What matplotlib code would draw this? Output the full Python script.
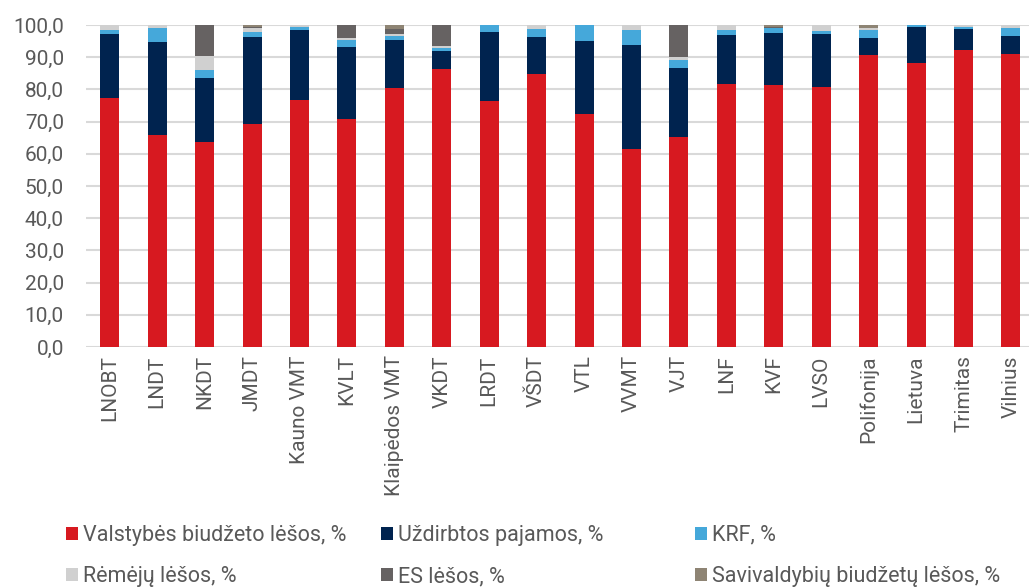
import matplotlib
matplotlib.use("Agg")
import matplotlib.pyplot as plt
from matplotlib.patches import Patch
import numpy as np

plt.rcParams['font.family'] = ['Roboto', 'DejaVu Sans']

categories = ["LNOBT", "LNDT", "NKDT", "JMDT", "Kauno VMT", "KVLT", "Klaipėdos VMT",
              "VKDT", "LRDT", "VŠDT", "VTL", "VVMT", "VJT", "LNF", "KVF", "LVSO",
              "Polifonija", "Lietuva", "Trimitas", "Vilnius"]

valstybes = [77.2, 65.7, 63.7, 69.4, 76.8, 70.8, 80.4, 86.4, 76.3, 84.8,
             72.4, 61.5, 65.2, 81.7, 81.5, 80.8, 90.8, 88.1, 92.1, 91.0]
uzdirbtos = [20.0, 29.1, 19.9, 26.8, 21.7, 22.4, 14.9, 5.6, 21.6, 11.6,
             22.7, 32.4, 21.3, 15.3, 16.1, 16.4, 5.3, 11.2, 6.8, 5.7]
krf = [1.2, 4.4, 2.5, 1.5, 0.9, 2.0, 1.3, 0.8, 2.1, 2.4,
       4.9, 4.4, 2.7, 1.4, 1.6, 0.9, 2.3, 0.7, 0.6, 2.5]
remeju = [1.6, 0.8, 4.2, 1.5, 0.6, 0.7, 0.6, 0.6, 0.0, 1.2,
          0.0, 1.7, 1.0, 1.6, 0.0, 1.9, 0.7, 0.0, 0.5, 0.8]
es = [0.0, 0.0, 9.7, 0.3, 0.0, 4.1, 1.6, 6.6, 0.0, 0.0,
      0.0, 0.0, 9.8, 0.0, 0.3, 0.0, 0.0, 0.0, 0.0, 0.0]
savivaldybiu = [0.0, 0.0, 0.0, 0.5, 0.0, 0.0, 1.2, 0.0, 0.0, 0.0,
                0.0, 0.0, 0.0, 0.0, 0.5, 0.0, 0.9, 0.0, 0.0, 0.0]

series_names = ["Valstybės biudžeto lėšos, %", "Uždirbtos pajamos, %", "KRF, %",
                "Rėmėjų lėšos, %", "ES lėšos, %", "Savivaldybių biudžetų lėšos, %"]
colors = ["#D71920", "#00234F", "#45A8DA", "#D0D0D0", "#666262", "#8E8474"]
series = [valstybes, uzdirbtos, krf, remeju, es, savivaldybiu]

fig = plt.figure(figsize=(10.29, 5.88), dpi=100)
ax = fig.add_axes([86/1029, 1-347/588, (1029-86)/1029, (347-25)/588])

x = np.arange(len(categories))
bottom = np.zeros(len(categories))
for vals, c in zip(series, colors):
    ax.bar(x, vals, width=0.4, bottom=bottom, color=c, zorder=3)
    bottom += np.array(vals)

ax.set_ylim(0, 100)
ax.set_xlim(-0.5, 19.38)
ax.set_yticks(np.arange(0, 101, 10))
ax.set_yticklabels([f"{v:.1f}".replace(".", ",") for v in np.arange(0, 101, 10)],
                   fontsize=15, color="#595959")
ax.set_xticks(x)
ax.set_xticklabels(categories, rotation=90, fontsize=15, color="#595959")
ax.tick_params(axis='x', length=0, pad=6)
ax.tick_params(axis='y', length=0, pad=16)
ax.grid(axis='y', color="#D9D9D9", linewidth=1.5, zorder=0)
for s in ax.spines.values():
    s.set_visible(False)

handles = [Patch(facecolor=c, edgecolor='none') for c in colors]
col_x = [66, 381, 695]
ymid = 1 - 556/588
for col in range(3):
    idx = [col, col + 3]
    leg = fig.legend([handles[i] for i in idx], [series_names[i] for i in idx],
                     ncol=1, loc='center left', bbox_to_anchor=(col_x[col]/1029, ymid),
                     frameon=False, fontsize=15.5, handlelength=0.56, handleheight=0.56,
                     handletextpad=0.25, labelspacing=0.95, borderpad=0,
                     borderaxespad=0, labelcolor="#595959")

fig.savefig("out.png", dpi=100)
